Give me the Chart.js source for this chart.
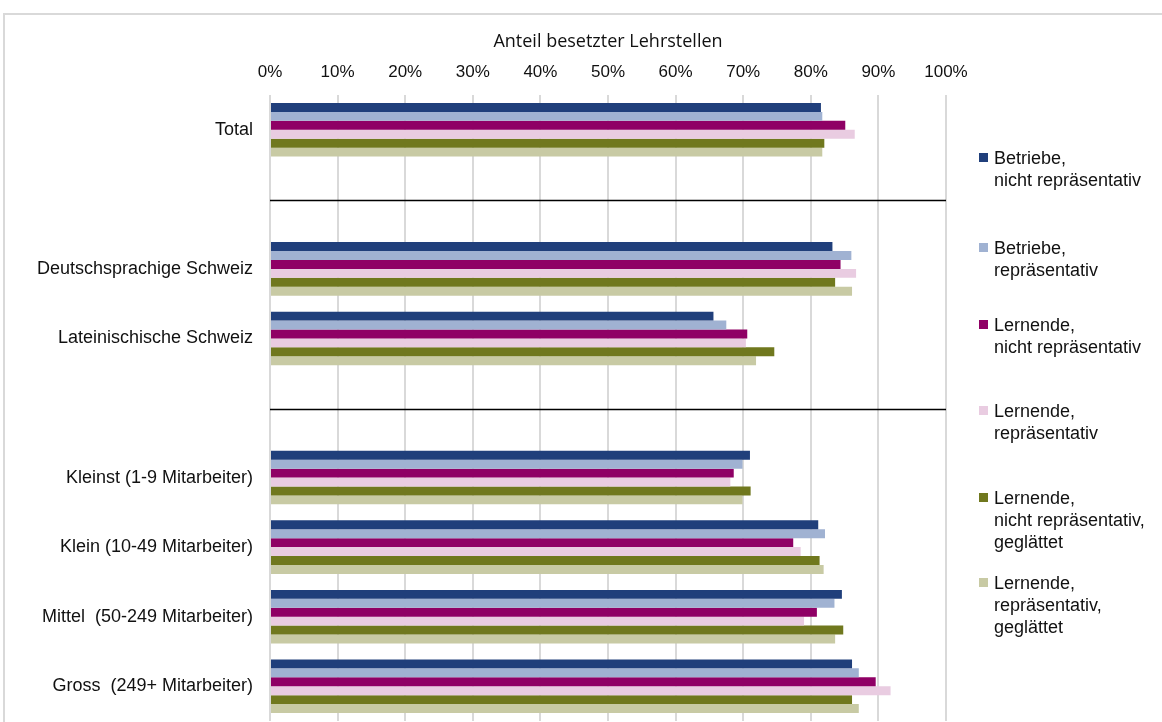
<!DOCTYPE html>
<html>
<head>
<meta charset="utf-8">
<script src="https://cdn.jsdelivr.net/npm/chart.js@4.4.0/dist/chart.umd.min.js"></script>
<style>
  body { margin: 0; background: #fff; overflow: hidden; }
  #wrap { position: relative; width: 1162px; height: 722px; }
  #frame { position: absolute; left: 3px; top: 13px; width: 1300px; height: 800px; border: 2px solid #d9d9d9; box-sizing: border-box; }
  #barChart { position: absolute; left: 0; top: 0; }
  #legend { position: absolute; left: 0; top: 0; font-family: "Liberation Sans", Arial, sans-serif; font-size: 18px; line-height: 22px; color: #111; }
  .item { position: absolute; left: 979px; white-space: nowrap; }
  .box { position: absolute; left: 0; top: 6px; width: 9px; height: 9px; }
  .txt { position: absolute; left: 15px; top: 0; }
</style>
</head>
<body>
<div id="wrap">
  <div id="frame"></div>
  <canvas id="barChart" width="1162" height="722"></canvas>
  <div id="legend"></div>
</div>
<script>
//========== data ==========//

// categories (empty strings are the gaps between the groups)
const categories = ['Total', '', 'Deutschsprachige Schweiz', 'Lateinischische Schweiz', '',
    'Kleinst (1-9 Mitarbeiter)', 'Klein (10-49 Mitarbeiter)', 'Mittel  (50-249 Mitarbeiter)', 'Gross  (249+ Mitarbeiter)'];

// share of filled apprenticeships in %
const betriebeNichtRep   = [81.5, null, 83.2, 65.6, null, 71.0, 81.1, 84.6, 86.1];
const betriebeRep        = [81.7, null, 86.0, 67.5, null, 69.9, 82.1, 83.5, 87.1];
const lernendeNichtRep   = [85.1, null, 84.4, 70.6, null, 68.6, 77.4, 80.9, 89.6];
const lernendeRep        = [86.5, null, 86.7, 70.4, null, 68.1, 78.5, 79.0, 91.8];
const lernendeNichtRepGl = [82.0, null, 83.6, 74.6, null, 71.1, 81.3, 84.8, 86.1];
const lernendeRepGl      = [81.7, null, 86.1, 71.9, null, 69.9, 81.9, 83.6, 87.1];

const seriesLabels = [
    'Betriebe,\nnicht repräsentativ',
    'Betriebe,\nrepräsentativ',
    'Lernende,\nnicht repräsentativ',
    'Lernende,\nrepräsentativ',
    'Lernende,\nnicht repräsentativ,\ngeglättet',
    'Lernende,\nrepräsentativ,\ngeglättet'
];
const seriesColors = ['#203f7b', '#a0b2d2', '#8f0065', '#e9cce1', '#70781e', '#c8caa4'];

const xTicks = [0, 10, 20, 30, 40, 50, 60, 70, 80, 90, 100];

//========== chart ==========//

const seriesData = [betriebeNichtRep, betriebeRep, lernendeNichtRep, lernendeRep, lernendeNichtRepGl, lernendeRepGl];

const databar = {
    labels: categories,
    datasets: seriesData.map((d, i) => ({
        label: seriesLabels[i],
        data: d,
        backgroundColor: seriesColors[i],
        borderWidth: 0,
        barPercentage: 1,
        categoryPercentage: 0.77
    }))
};

// black lines between the groups
const separators = {
    id: 'separators',
    beforeDatasetsDraw(chart) {
        const { ctx, chartArea, scales } = chart;
        ctx.save();
        ctx.strokeStyle = '#000';
        ctx.lineWidth = 1.5;
        categories.forEach((c, i) => {
            if (c !== '') return;
            const y = Math.round(scales.y.getPixelForValue(i)) + 1.5;
            ctx.beginPath();
            ctx.moveTo(chartArea.left, y);
            ctx.lineTo(chartArea.right, y);
            ctx.stroke();
        });
        ctx.restore();
    }
};

const configbar = {
    type: 'bar',
    data: databar,
    options: {
        indexAxis: 'y',
        responsive: false,
        animation: false,
        layout: { padding: { left: 0, right: 216, top: 0, bottom: 1 } },
        plugins: {
            legend: { display: false },
            tooltip: { enabled: false }
        },
        scales: {
            x: {
                position: 'top',
                min: 0,
                max: 100,
                afterBuildTicks: (s) => { s.ticks = xTicks.map(v => ({ value: v })); },
                afterFit: (s) => { s.height = 95; s.paddingLeft = 0; s.paddingRight = 0; },
                grid: { color: '#d9d9d9', lineWidth: 2, drawTicks: false },
                border: { display: false },
                ticks: {
                    padding: 12,
                    color: '#111',
                    font: { family: 'Liberation Sans', size: 17 },
                    callback: (v) => v + '%'
                },
                title: {
                    display: true,
                    text: 'Anteil besetzter Lehrstellen',
                    color: '#111',
                    font: { family: 'Open Sans', size: 18 },
                    padding: { top: 31, bottom: 0 }
                }
            },
            y: {
                afterFit: (s) => { s.width = 270; s.paddingTop = 0; s.paddingBottom = 0; },
                grid: { display: false, drawTicks: false },
                border: { display: false },
                ticks: {
                    padding: 17,
                    color: '#111',
                    font: { family: 'Liberation Sans', size: 18 }
                }
            }
        }
    },
    plugins: [separators]
};

const barChart = new Chart(document.getElementById('barChart'), configbar);

//========== legend ==========//

const legendTops = [147, 237, 314, 400, 487, 572];
const legend = document.getElementById('legend');
barChart.data.datasets.forEach((ds, i) => {
    const item = document.createElement('div');
    item.className = 'item';
    item.style.top = legendTops[i] + 'px';
    const box = document.createElement('span');
    box.className = 'box';
    box.style.background = ds.backgroundColor;
    const txt = document.createElement('span');
    txt.className = 'txt';
    txt.innerHTML = ds.label.split('\n').join('<br>');
    item.appendChild(box);
    item.appendChild(txt);
    legend.appendChild(item);
});
</script>
</body>
</html>
